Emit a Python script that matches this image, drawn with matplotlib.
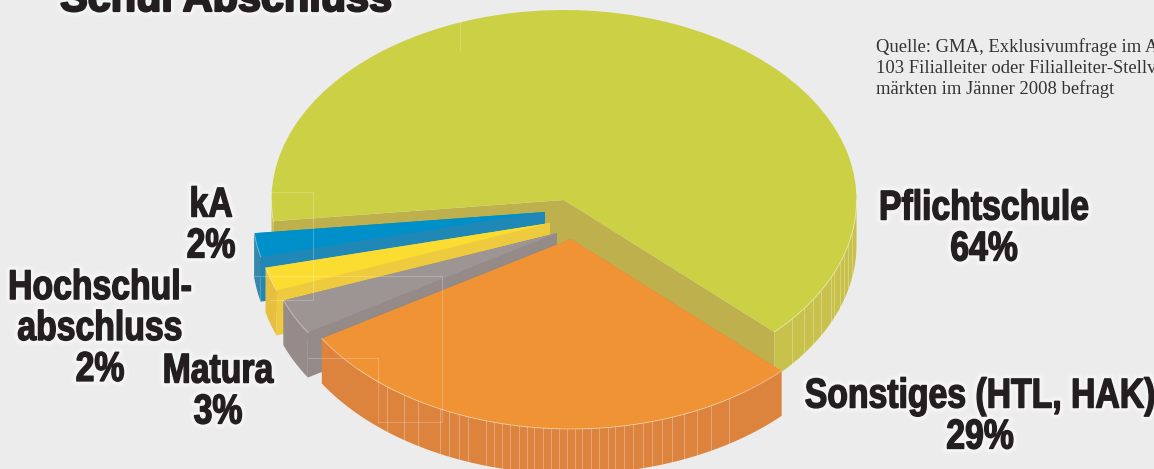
# Schulabschluss der Filialleiter: Torte mit Tiefe, aus ax.pie aufgebaut

import numpy as np
import matplotlib
matplotlib.use('Agg')
import matplotlib.pyplot as plt
import matplotlib.patheffects as pe
from matplotlib.patches import Polygon
from matplotlib.transforms import Affine2D

# Daten

kategorien = ['Pflichtschule', 'kA', 'Hochschulabschluss', 'Matura', 'Sonstiges (HTL, HAK)']
anteile = [64, 2, 2, 3, 29]

titel = 'Schul Abschluss'
quelle = ['Quelle: GMA, Exklusivumfrage im A',
          '103 Filialleiter oder Filialleiter-Stellv',
          'märkten im Jänner 2008 befragt']
beschriftungen = ['Pflichtschule\n64%', 'kA\n2%', 'Hochschul-\nabschluss\n2%', 'Matura\n3%',
                  'Sonstiges (HTL, HAK)\n29%']

# Aussehen

B, H = 1154, 469
farben = ['#cbd045', '#0090c9', '#fbdd32', '#9c9593', '#ef9334']
farben_rand = ['#c8c24c', '#3a86ab', '#e6bf40', '#978b89', '#dc833d']
farben_wand = ['#bfb04e', '#1f88b6', '#eecb3e', '#948b89', '#dc833d']
mitten_px = [(564, 200), (545, 212), (550, 223), (557, 233), (571, 239)]
label_px = [(984, 229), (211, 226), (100, 329), (218, 392), (980, 417)]
rx, ry, tiefe = 292.5, 190.0, 45.0
linie = '#ffffff'

# Facettenkanten am Rand, Pixel in x

facetten = {0: [792, 804, 813, 821, 831, 834, 840, 844, 848, 852],
            4: [387, 404, 418, 440, 449, 459, 468, 486, 494, 502, 510, 519, 527, 534, 543, 551, 559, 567,
                575, 582, 591, 599, 608, 615, 624, 633, 643, 652, 662, 672, 684, 697, 711, 729]}

# duenne Reste von Rahmen aus dem Layout, Pixel

rahmen = [[(271, 192), (313, 192), (313, 300), (271, 300)],
          [(254, 276), (442, 276), (442, 422), (378, 422)],
          [(308, 358), (378, 358), (378, 422)],
          [(460, 22), (460, 50)]]


# Schmalschrift: der Text bleibt Text, wird beim Zeichnen nur in x gestaucht

class Schmal(pe.AbstractPathEffect):

    def __init__(self, cx, sx, lw, farbe, alpha=1.0):

        super().__init__()
        self.cx, self.sx, self.lw, self.farbe, self.alpha = cx, sx, lw, farbe, alpha

    def draw_path(self, renderer, gc, tpath, affine, rgbFace=None):

        t = affine + Affine2D().translate(-self.cx, 0).scale(self.sx, 1).translate(self.cx, 0)
        gc0 = renderer.new_gc()
        gc0.copy_properties(gc)
        gc0.set_linewidth(self.lw)
        gc0.set_foreground(self.farbe)
        gc0.set_alpha(self.alpha)
        farbe = matplotlib.colors.to_rgba(self.farbe, self.alpha)
        renderer.draw_path(gc0, tpath, t, farbe)
        gc0.restore()


def effekte(cx, sx, dick):

    return [Schmal(cx, sx, 8, '#ffffff', 0.2), Schmal(cx, sx, 5, '#ffffff', 0.35),
            Schmal(cx, sx, dick, '#231f20')]


fig = plt.figure(figsize=(B / 100, H / 100), dpi=100, facecolor='#ececec')
ax = fig.add_axes([0, 0, 1, 1])

wedges, _ = ax.pie(anteile, colors=farben, startangle=-44, counterclock=True, radius=1)
ax.set_aspect('auto')
ax.set_xlim(-564 / rx, (B - 564) / rx)
ax.set_ylim(-(H - 200) / ry, 200 / ry)
ax.axis('off')

d = tiefe / ry

for i, w in enumerate(wedges):

    cx = (mitten_px[i][0] - 564) / rx
    cy = -(mitten_px[i][1] - 200) / ry
    w.set_center((cx, cy))
    w.set_zorder(10 * i + 5)
    w.set_edgecolor('none')

    # Schnittflaechen der Torte

    for teta, z in [(w.theta1, 1), (w.theta2, 2)]:

        px, py = cx + np.cos(np.radians(teta)), cy + np.sin(np.radians(teta))
        ax.add_patch(Polygon([(cx, cy), (px, py), (px, py - d), (cx, cy - d)], closed=True,
                             facecolor=farben_wand[i], edgecolor='none', zorder=10 * i + z))

    # Aussenrand, nur der vordere Teil ist sichtbar

    t1 = w.theta1 % 360
    t2 = t1 + (w.theta2 - w.theta1)

    for a, b in [(t1, t2), (t1 - 360, t2 - 360)]:

        a, b = max(a, 180), min(b, 360)

        if a >= b:
            continue

        teil = np.radians(np.linspace(a, b, 80))
        xs, ys = cx + np.cos(teil), cy + np.sin(teil)
        rand = list(zip(xs, ys)) + list(zip(xs[::-1], ys[::-1] - d))
        ax.add_patch(Polygon(rand, closed=True, facecolor=farben_rand[i], edgecolor='none',
                             zorder=10 * i + 3))
        ax.plot(xs, ys, color=linie, alpha=0.4, lw=0.7, zorder=10 * i + 6)

    # Facettenkanten

    for x_px in facetten.get(i, []):

        fx = (x_px - 564) / rx
        fy = cy - np.sqrt(1 - (fx - cx) ** 2)
        ax.plot([fx, fx], [fy, fy - d], color=linie, alpha=0.28, lw=0.7, zorder=10 * i + 4)

for zug in rahmen:

    xs = [p[0] / B for p in zug]
    ys = [1 - p[1] / H for p in zug]
    fig.add_artist(plt.Line2D(xs, ys, color=linie, alpha=0.22, lw=0.8, zorder=60))

# Texte

for txt, (x, y) in zip(beschriftungen, label_px):

    fig.text(x / B, 1 - y / H, txt, ha='center', va='center', family='Liberation Sans', weight='bold',
             fontsize=30, color='#231f20', linespacing=1.03, path_effects=effekte(x, 0.81, 1.0), zorder=70)

fig.text(226 / B, 1 - 11 / H, titel, ha='center', va='baseline', family='Liberation Sans', weight='bold',
         fontsize=29.8, color='#231f20', path_effects=effekte(226, 1.0, 1.6), zorder=70)

for zeile, y in zip(quelle, [52, 73, 94]):

    fig.text(876 / B, 1 - y / H, zeile, ha='left', va='baseline', family='Liberation Serif',
             fontsize=13.4, color='#333333', zorder=70)

fig.savefig('out.png', dpi=100, facecolor=fig.get_facecolor())
plt.close()
